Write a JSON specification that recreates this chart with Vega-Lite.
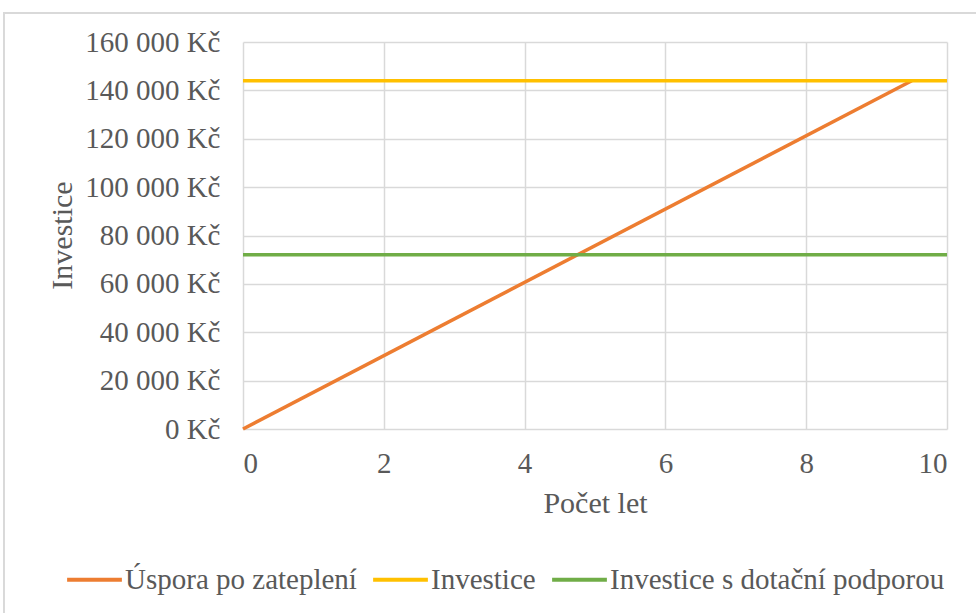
{
  "$schema": "https://vega.github.io/schema/vega-lite/v6.json",
  "width": 704,
  "height": 387,
  "autosize": {"type": "none"},
  "padding": {"left": 243, "top": 42, "right": 29, "bottom": 184},
  "background": "white",
  "config": {
    "view": {"stroke": null},
    "font": "'Liberation Serif', 'Times New Roman', serif",
    "axis": {
      "labelFont": "'Liberation Serif', 'Times New Roman', serif",
      "titleFont": "'Liberation Serif', 'Times New Roman', serif",
      "labelColor": "#595959",
      "titleColor": "#595959",
      "labelFontSize": 29,
      "titleFontSize": 30,
      "titleFontWeight": "normal",
      "grid": true,
      "gridColor": "#D9D9D9",
      "gridWidth": 1.5,
      "domain": false,
      "ticks": false
    },
    "legend": {
      "labelFont": "'Liberation Serif', 'Times New Roman', serif",
      "labelFontSize": 29,
      "labelColor": "#595959"
    }
  },
  "data": {
    "values": [
      {"rok": 0, "castka": 0, "serie": "Úspora po zateplení"},
      {"rok": 9.5, "castka": 144000, "serie": "Úspora po zateplení"},
      {"rok": 0, "castka": 144000, "serie": "Investice"},
      {"rok": 10, "castka": 144000, "serie": "Investice"},
      {"rok": 0, "castka": 72000, "serie": "Investice s dotační podporou"},
      {"rok": 10, "castka": 72000, "serie": "Investice s dotační podporou"}
    ]
  },
  "layer": [
    {
      "description": "chart area frame",
      "mark": {"type": "rect", "filled": false, "stroke": "#D9D9D9", "strokeWidth": 1.5, "clip": false},
      "encoding": {
        "x": {"datum": -3.395, "type": "quantitative", "axis": {"grid": true}},
        "x2": {"datum": 10.5},
        "y": {"datum": 172000, "type": "quantitative", "axis": {"grid": true}},
        "y2": {"datum": -80000}
      }
    },
    {
      "mark": {"type": "line", "strokeWidth": 3.5},
      "encoding": {
        "x": {
          "field": "rok",
          "type": "quantitative",
          "title": "Počet let",
          "scale": {"domain": [0, 10], "nice": false},
          "axis": {
            "grid": true,
            "values": [0, 2, 4, 6, 8, 10],
            "format": "d",
            "labelPadding": 20,
            "titlePadding": 10
          }
        },
        "y": {
          "field": "castka",
          "type": "quantitative",
          "title": "Investice",
          "scale": {"domain": [0, 160000], "nice": false},
          "axis": {
            "grid": true,
            "values": [0, 20000, 40000, 60000, 80000, 100000, 120000, 140000, 160000],
            "labelExpr": "replace(format(datum.value, ','), ',', ' ') + ' Kč'",
            "labelPadding": 23,
            "titleX": -181,
            "titleY": 193,
            "titleAlign": "center",
            "titleBaseline": "middle",
            "titleAngle": 270
          }
        },
        "color": {
          "field": "serie",
          "type": "nominal",
          "scale": {
            "domain": ["Úspora po zateplení", "Investice", "Investice s dotační podporou"],
            "range": ["#ED7D31", "#FFC000", "#70AD47"]
          },
          "legend": {
            "orient": "none",
            "legendX": -178,
            "legendY": 508,
            "direction": "horizontal",
            "title": null,
            "symbolType": "stroke",
            "symbolStrokeWidth": 4,
            "symbolSize": 3000,
            "columnPadding": 8,
            "labelOffset": 1,
            "labelLimit": 0
          }
        }
      }
    }
  ]
}
